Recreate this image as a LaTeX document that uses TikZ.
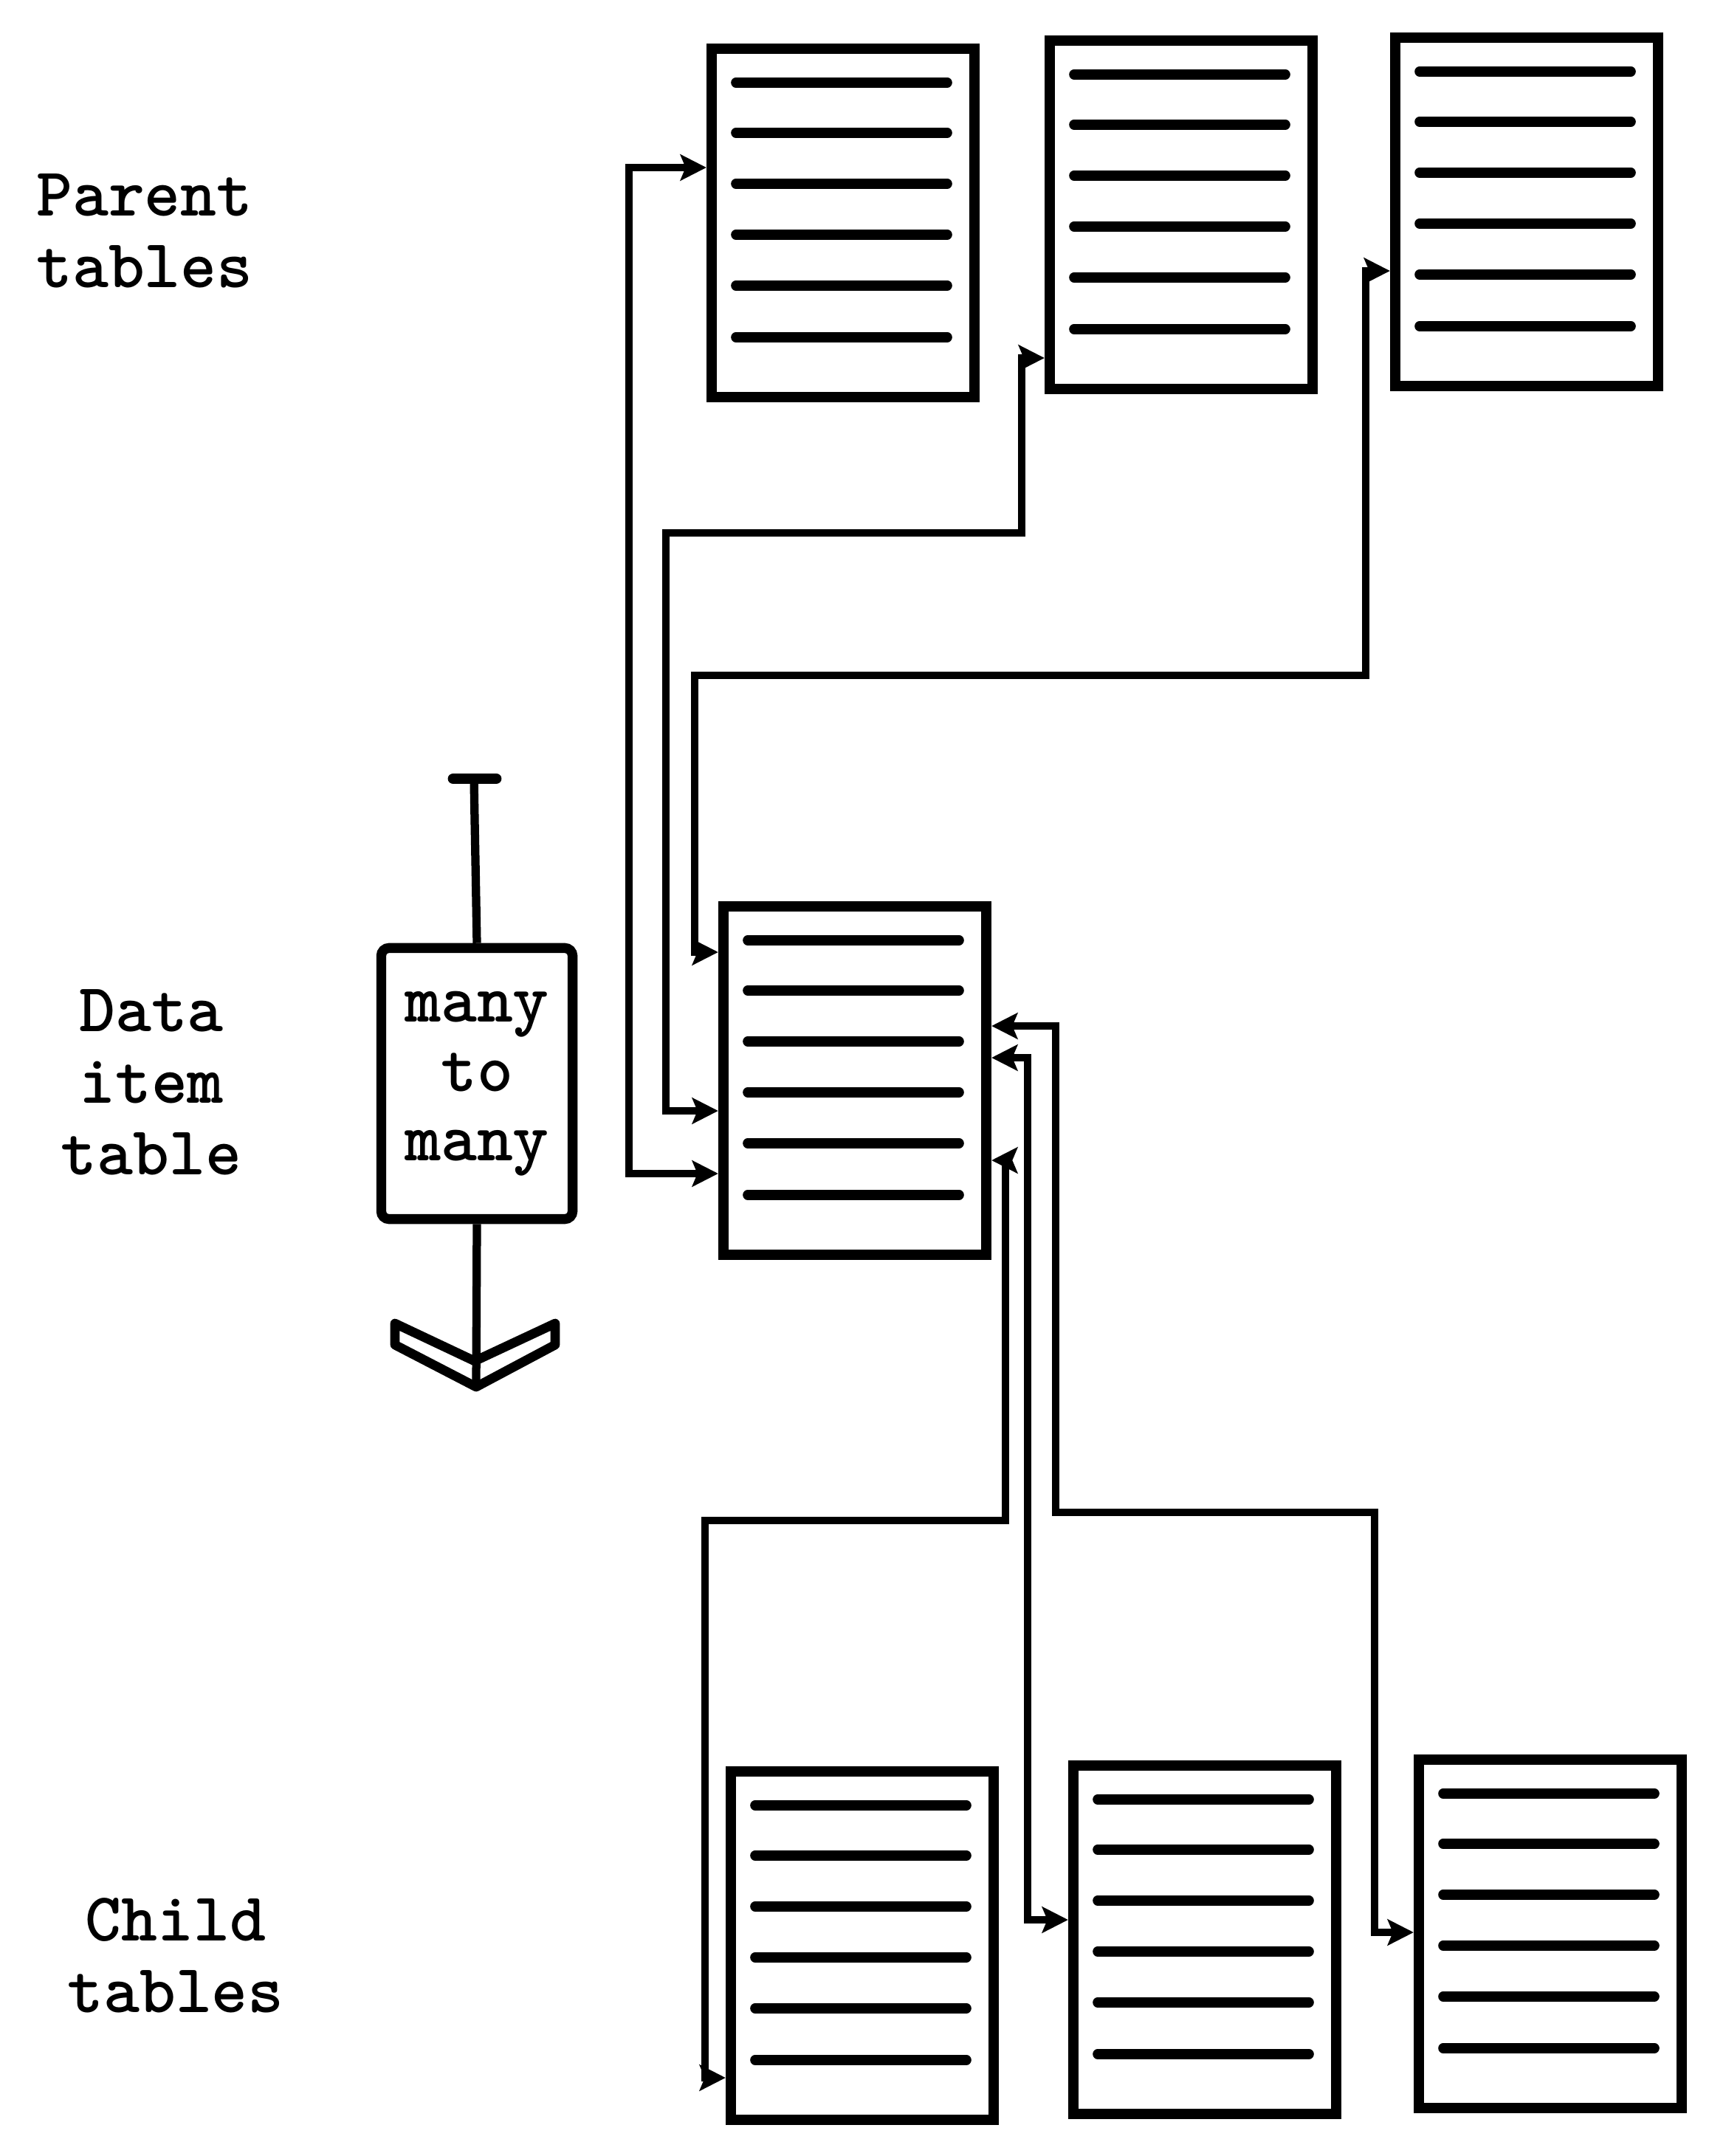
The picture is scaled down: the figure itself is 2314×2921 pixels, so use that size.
\documentclass[tikz,border=0pt]{standalone}
\usetikzlibrary{arrows.meta,calc}
\tikzset{
  tbl/.style={draw, line width=4pt, minimum width=3.56cm, minimum height=4.72cm, inner sep=0pt},
  rowline/.style={line width=3.8pt, line cap=round},
  conn/.style={line width=2.6pt, line join=miter, {Stealth[length=10pt,width=10pt,inset=2pt]}-{Stealth[length=10pt,width=10pt,inset=2pt]}},
  lbl/.style={font=\ttfamily\bfseries\fontsize{26.5}{27.6}\selectfont, align=center, inner sep=0pt},
  mbox/.style={draw, line width=3.8pt, rounded corners=3pt, minimum width=2.59cm, minimum height=3.67cm, inner sep=0pt, align=center, font=\ttfamily\bfseries\fontsize{26.5}{26.8}\selectfont},
  stem/.style={line width=3.2pt},
  chev/.style={line width=3.6pt, line join=round}
}
\newcommand{\dtable}[3]{%
  \node[tbl] (#1) at (#2,#3) {};
  \foreach \k in {53,121,190,259,328,398}
    \draw[rowline] ($(#1.north west)+(40,\k)$) -- ($(#1.north east)+(-44,\k)$);
}
\begin{document}
\begin{tikzpicture}[x=0.01cm,y=-0.01cm]
\useasboundingbox (0,0) rectangle (2314,2921);

% labels
\node[lbl] (lp) at (196,313) {Parent\\tables};
\node[lbl] (ld) at (205,1466) {Data\\item\\table};
\node[lbl] (lc) at (238,2649) {Child\\tables};

% tables
\dtable{P1}{1142}{302}
\dtable{P2}{1600}{291}
\dtable{P3}{2068}{287}
\dtable{D}{1158}{1464}
\dtable{C1}{1168}{2636}
\dtable{C2}{1632}{2628}
\dtable{C3}{2100}{2620}

% many to many symbol
\node[mbox] (M) at (646,1468) {many\\to\\many};
\coordinate (Ttop) at (642,1055);
\coordinate (tip) at (645,1879);
\draw[stem] (M.north) -- (Ttop);
\draw[line width=4.2pt, line cap=round] ($(Ttop)+(-28,0)$) -- ($(Ttop)+(30,0)$);
\draw[stem] (M.south) -- (tip);
\draw[chev] (535,1793) -- (643,1844) -- (752,1793) -- (752,1822) -- (tip) -- (535,1822) -- cycle;

% connectors to parent tables
\draw[conn] (D.west |- 0,1590) -| (852,227) -- (P1.west |- 0,227);
\draw[conn] (D.west |- 0,1505) -| (902,722) -| (1384,485) -- (P2.west |- 0,485);
\draw[conn] (D.west |- 0,1290) -| (941,915) -| (1850,367) -- (P3.west |- 0,367);

% connectors to child tables
\draw[conn] (D.east |- 0,1390) -| (1430,2049) -| (1862,2618) -- (C3.west |- 0,2618);
\draw[conn] (D.east |- 0,1433) -| (1392,2601) -- (C2.west |- 0,2601);
\draw[conn] (D.east |- 0,1572) -| (1362,2060) -| (955,2815) -- (C1.west |- 0,2815);
\end{tikzpicture}
\end{document}
